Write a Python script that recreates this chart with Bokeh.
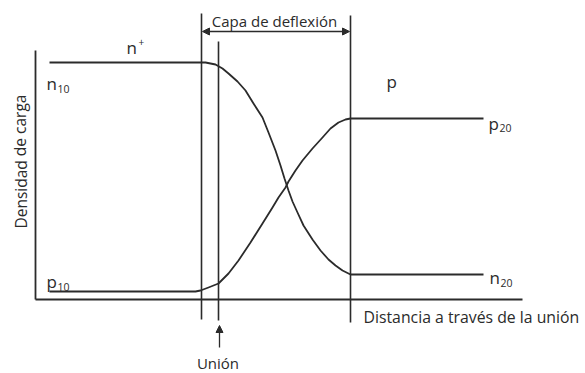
from bokeh.plotting import figure
from bokeh.models import Range1d, Arrow, NormalHead
from bokeh.core.properties import value
from bokeh.embed import file_html
from bokeh.resources import INLINE

# ---- data (distance along the device, charge density) ----
# electron density: n10 on the n+ side, falling through the depletion layer to n20
n_dist = [41, 192, 197, 207, 214, 220, 229, 237, 245, 254, 260, 267, 272, 276, 280,
          284, 289, 295, 304, 312, 320, 327, 334, 342, 475]
n_dens = [303, 303, 303, 301, 297, 292, 284, 275, 262, 248, 233, 215, 200, 187, 175,
          164, 153, 140, 126, 115, 106, 100, 95, 91, 91]
# hole density: p10 on the n+ side, rising through the depletion layer to p20
p_dist = [41, 187, 192, 200, 210, 220, 230, 242, 254, 264, 270, 277, 280, 287, 294,
          304, 314, 322, 330, 337, 342, 475]
p_dens = [74, 74, 75, 78, 82, 92, 105, 123, 142, 158, 168, 178, 184, 195, 205,
          217, 228, 237, 243, 246, 247, 247]

# axes of the diagram
axis_origin = (27, 66)
axis_x_end = 514
axis_y_end = 315

# boundaries: depletion layer edges and junction
layer_left = 193
layer_right = 342
junction = 210

INK = "#2b2b2b"
FONT = "Open Sans"

p = figure(width=585, height=373, output_backend="svg", toolbar_location=None,
           x_range=Range1d(-8, 577), y_range=Range1d(-8, 365),
           min_border=0, outline_line_color=None)
p.axis.visible = False
p.grid.visible = False
p.background_fill_color = "white"
p.border_fill_color = "white"

# axes
ox, oy = axis_origin
p.line([ox, ox], [axis_y_end, oy], line_color=INK, line_width=1.8)
p.line([ox, axis_x_end], [oy, oy], line_color=INK, line_width=1.8)

# boundary lines
p.line([layer_left, layer_left], [352, 46], line_color=INK, line_width=1.6)
p.line([junction, junction], [324, 45], line_color=INK, line_width=1.6)
p.line([layer_right, layer_right], [350, 43], line_color=INK, line_width=1.6)

# curves
p.line(n_dist, n_dens, line_color=INK, line_width=1.8, line_join="round")
p.line(p_dist, p_dens, line_color=INK, line_width=1.8, line_join="round")

# depletion layer arrow
p.add_layout(Arrow(x_start=layer_left + 1, y_start=334, x_end=layer_right - 1, y_end=334,
                   start=NormalHead(size=7, fill_color=INK, line_color=INK),
                   end=NormalHead(size=7, fill_color=INK, line_color=INK),
                   line_color=INK, line_width=1.3))
# junction arrow
p.add_layout(Arrow(x_start=junction + 1, y_start=18, x_end=junction + 1, y_end=40,
                   end=NormalHead(size=7, fill_color=INK, line_color=INK),
                   line_color=INK, line_width=1.3))

def txt(x, y, s, size, align="left", baseline="alphabetic", angle=0.0):
    p.text(x=[x], y=[y], text=[s], angle=angle,
           text_font=value(FONT), text_font_size=size,
           text_color=INK, text_align=align, text_baseline=baseline)

# titles
txt(266, 345, "Capa de deflexión", "15px", align="center")
txt(209.5, 3, "Unión", "15px", align="center")
txt(355, 49, "Distancia a través de la unión", "15.8px")
txt(12, 204, "Densidad de carga", "15.5px", align="center", baseline="middle", angle=1.5708)

# region labels
txt(118, 318, "n", "17px")
txt(130, 324, "+", "10px")
txt(378, 284, "p", "17px")

# level labels
txt(38, 282, "n", "17px")
txt(49, 277, "10", "10.5px")
txt(38, 84, "p", "17px")
txt(49, 79, "10", "10.5px")
txt(480, 242, "p", "17px")
txt(491, 238, "20", "10.5px")
txt(481, 88, "n", "17px")
txt(492, 83, "20", "10.5px")

open("out.html", "w").write(file_html(p, INLINE))
